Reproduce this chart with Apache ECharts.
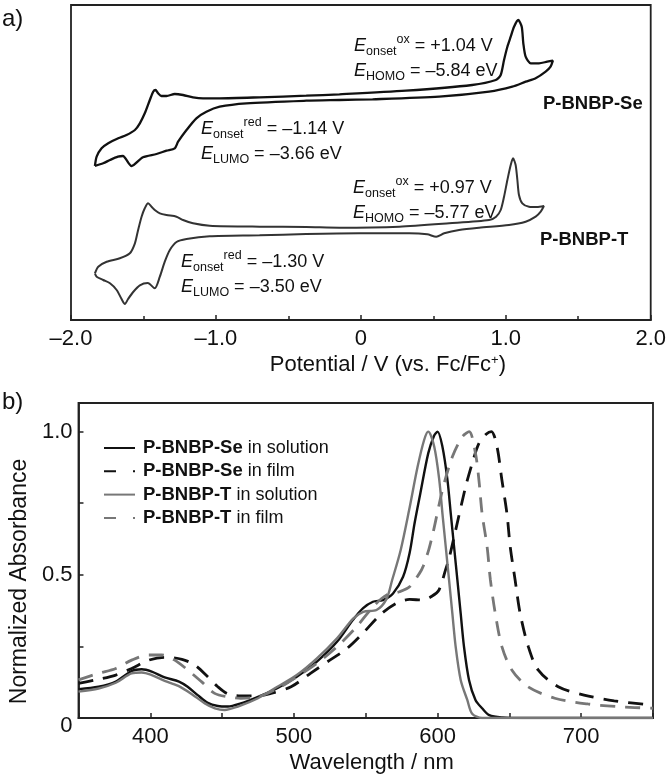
<!DOCTYPE html>
<html>
<head>
<meta charset="utf-8">
<script src="https://cdn.jsdelivr.net/npm/echarts@6/dist/echarts.min.js"></script>
<style>
html, body { margin: 0; padding: 0; background: #fff; }
#chart { width: 669px; height: 778px; }
</style>
</head>
<body>
<div id="chart"></div>
<script>
var FONT = "'Liberation Sans', Arial, Helvetica, sans-serif";

// a) cyclic voltammograms: potential (V vs Fc/Fc+) and current (arb. units)
var seCvV = [-1.835, -1.823, -1.789, -1.743, -1.674, -1.617, -1.559, -1.525, -1.491, -1.456, -1.433, -1.417, -1.399, -1.376, -1.341, -1.284, -1.227, -1.158, -1.089, -0.974, -0.699, -0.377, -0.148, 0.311, 0.768, 0.931, 0.965, 0.988, 1.011, 1.034, 1.057, 1.086, 1.110, 1.121, 1.137, 1.172, 1.229, 1.286, 1.325,
  1.309, 1.275, 1.206, 1.137, 1.045, 0.885, 0.540, 0.081, -0.148, -0.377, -0.790, -0.974, -1.066, -1.135, -1.203, -1.261, -1.284, -1.341, -1.410, -1.504, -1.582, -1.642, -1.676, -1.731, -1.778, -1.835]
var seCvI = [154, 163.3, 171.7, 176.7, 181.7, 185, 190, 196.7, 206.7, 220, 228.3, 230, 226.7, 224, 224, 226, 225, 222.7, 221.7, 221.7, 222.7, 224.3, 225.7, 229.3, 235, 240, 245, 260, 273.3, 283.3, 293.3, 300, 293.3, 276.7, 263.3, 256.7, 256.7, 258.3, 259.3,
  253.3, 248.3, 241.7, 238.3, 233.3, 228.3, 223.3, 220.7, 220, 219.3, 216.7, 213.3, 208.3, 201.7, 190, 178.3, 171.7, 169.3, 166, 162.7, 154, 164, 163.3, 160, 156.7, 154]
var tCvV = [-1.835, -1.812, -1.754, -1.663, -1.594, -1.559, -1.537, -1.513, -1.491, -1.468, -1.444, -1.422, -1.387, -1.341, -1.272, -1.227, -1.158, -1.043, -0.699, -0.377, -0.148, 0.265, 0.609, 0.885, 0.933, 0.965, 0.988, 1.011, 1.034, 1.050, 1.068, 1.080, 1.091, 1.114, 1.160, 1.215, 1.263,
  1.241, 1.206, 1.137, 1.022, 0.816, 0.678, 0.575, 0.520, 0.458, 0.334, -0.010, -0.377, -0.699, -1.043, -1.203, -1.272, -1.318, -1.353, -1.387, -1.422, -1.470, -1.525, -1.571, -1.606, -1.628, -1.651, -1.685, -1.731, -1.778, -1.823, -1.835]
var tCvI = [46.7, 53.3, 58.3, 61.7, 66.7, 76.7, 90, 103.3, 111.7, 116.7, 113.3, 110, 106.7, 105, 103.3, 100, 96.7, 94.3, 93.3, 93, 92.3, 93.3, 96.7, 100, 103.3, 110, 123.3, 140, 155, 161.7, 155, 140, 125, 116.7, 113.3, 113, 114,
  108.3, 103.3, 98.3, 95, 92.3, 90, 86.7, 83.3, 85.7, 86.7, 86.7, 86, 84.7, 83.7, 81, 78, 70, 58.3, 43.3, 31.7, 37, 34.7, 28, 21, 16, 21, 30, 36.7, 40, 43.3, 46.7]

// b) normalized absorbance spectra
var seSolWl = [350, 364, 376, 387, 394, 401, 410, 420, 426, 433, 440, 447, 454, 463, 475, 488, 502, 516, 530, 541, 548, 555, 562, 569, 576, 580.5, 584, 588, 593.5, 597.5, 600, 603.4, 606.9, 609.2, 611.5, 613.8, 616.1, 618.4, 621.9, 626.4, 631, 636, 645, 660, 750]
var seSolAbs = [0.101, 0.109, 0.127, 0.164, 0.170, 0.162, 0.142, 0.127, 0.109, 0.080, 0.053, 0.042, 0.040, 0.051, 0.074, 0.103, 0.144, 0.197, 0.266, 0.342, 0.383, 0.406, 0.412, 0.435, 0.493, 0.575, 0.68, 0.784, 0.924, 0.985, 1.0, 0.947, 0.831, 0.714, 0.598, 0.482, 0.365, 0.249, 0.133, 0.063, 0.034, 0.010, 0.002, 0, 0]
var seFilmWl = [350, 364, 376, 387, 399, 410, 422, 431, 440, 447, 454, 463, 475, 484, 498, 511.5, 525, 537, 548, 560, 571, 580.5, 589.7, 596, 601, 605.7, 608, 612.6, 619.5, 624.1, 628.8, 634, 637.5, 641.4, 644.8, 648.3, 650.6, 654, 657.5, 663.2, 670, 684, 702, 723, 750]
var seFilmAbs = [0.121, 0.135, 0.150, 0.173, 0.202, 0.212, 0.205, 0.185, 0.144, 0.109, 0.084, 0.077, 0.077, 0.086, 0.109, 0.156, 0.202, 0.243, 0.296, 0.360, 0.400, 0.414, 0.412, 0.425, 0.447, 0.52, 0.557, 0.656, 0.807, 0.889, 0.959, 0.992, 1.0, 0.947, 0.831, 0.714, 0.598, 0.482, 0.365, 0.249, 0.168, 0.109, 0.080, 0.060, 0.045]
var tSolWl = [350, 364, 376, 387, 394, 401, 410, 419.5, 428.7, 438, 445, 451.7, 461, 475, 488.5, 502, 516, 530, 541.4, 548.3, 557.5, 564.4, 568.4, 574.3, 580.2, 586.1, 590.6, 593.5, 597.7, 601.2, 603.4, 605.7, 608, 610.3, 612.6, 616.1, 620.7, 624.1, 631, 750]
var tSolAbs = [0.092, 0.103, 0.123, 0.156, 0.159, 0.150, 0.130, 0.112, 0.084, 0.051, 0.034, 0.028, 0.040, 0.069, 0.109, 0.150, 0.208, 0.278, 0.348, 0.371, 0.377, 0.415, 0.482, 0.586, 0.726, 0.877, 0.970, 1.0, 0.947, 0.831, 0.714, 0.598, 0.482, 0.365, 0.249, 0.133, 0.063, 0.015, 0, 0]
var tFilmWl = [350, 364, 376, 387, 399, 408, 417, 426, 435.6, 444.8, 454, 463, 475, 488.5, 502, 516, 530, 543.7, 555, 564.4, 573.6, 580.5, 587.4, 590, 594, 597, 603.4, 610.3, 617.2, 622, 626.4, 628.8, 631, 634.5, 636.8, 640.2, 644.8, 651.7, 663, 681.6, 704.6, 727.6, 750]
var tFilmAbs = [0.133, 0.156, 0.173, 0.202, 0.220, 0.220, 0.202, 0.168, 0.127, 0.086, 0.074, 0.069, 0.074, 0.103, 0.144, 0.191, 0.249, 0.319, 0.388, 0.429, 0.441, 0.458, 0.505, 0.53, 0.59, 0.65, 0.796, 0.912, 0.982, 1.0, 0.924, 0.831, 0.714, 0.598, 0.482, 0.365, 0.249, 0.168, 0.109, 0.069, 0.049, 0.039, 0.034]

function pairs (xs, ys) {
  return xs.map(function (x, i) { return [x, ys[i]] })
}

// rich styles for E_onset^ox etc.
var annotRich = {
  e: { fontFamily: FONT, fontStyle: 'italic', fontSize: 18, lineHeight: 25, fill: '#111' },
  sb: { fontFamily: FONT, fontSize: 12.5, lineHeight: 11, verticalAlign: 'bottom', fill: '#111' },
  sp: { fontFamily: FONT, fontSize: 12.5, lineHeight: 15, verticalAlign: 'top', fill: '#111' },
  n: { fontFamily: FONT, fontSize: 18, lineHeight: 25, fill: '#111' },
  b: { fontFamily: FONT, fontSize: 18.5, fontWeight: 'bold', lineHeight: 25, fill: '#111' },
  p: { fontFamily: FONT, fontSize: 24, lineHeight: 25, fill: '#111' }
}

function annot (x, y, text) {
  return {
    type: 'text',
    x: x,
    y: y,
    silent: true,
    style: { text: text, rich: annotRich, verticalAlign: 'top', fontFamily: FONT, fontSize: 18, fill: '#111' }
  }
}

var axisCol = '#222'
var legendDash = [12, 17]

var chart = echarts.init(document.getElementById('chart'))
var option = {
  animation: false,
  backgroundColor: '#fff',
  textStyle: { fontFamily: FONT },
  grid: [
    { left: 71, top: 5, width: 581, height: 315, show: true, borderColor: axisCol, borderWidth: 1.8 },
    { left: 72, top: 403, width: 581, height: 315, show: true, borderColor: axisCol, borderWidth: 1.8 }
  ],
  xAxis: [
    {
      gridIndex: 0,
      type: 'value',
      min: -2,
      max: 2,
      interval: 1,
      axisLine: { lineStyle: { color: axisCol, width: 1.8 } },
      axisTick: { inside: true, length: 5, lineStyle: { color: axisCol, width: 1.5 } },
      minorTick: { show: true, splitNumber: 2, length: 4, lineStyle: { color: axisCol, width: 1.5 } },
      splitLine: { show: false },
      axisLabel: {
        fontSize: 22,
        color: '#111',
        margin: 8,
        formatter: function (v) {
          if (v === 0) return '0'
          return (v < 0 ? '–' : '') + Math.abs(v).toFixed(1)
        }
      },
      name: 'Potential / V (vs. Fc/Fc{sp|+})',
      nameLocation: 'middle',
      nameGap: 34,
      nameTextStyle: {
        fontSize: 22,
        color: '#111',
        padding: [0, 0, 0, 54],
        rich: { sp: { fontSize: 13, lineHeight: 16, verticalAlign: 'top', color: '#111' } }
      }
    },
    {
      gridIndex: 1,
      type: 'value',
      min: 350,
      max: 750,
      interval: 50,
      axisLine: { lineStyle: { color: axisCol, width: 1.8 } },
      axisTick: { inside: true, length: 5, lineStyle: { color: axisCol, width: 1.5 } },
      splitLine: { show: false },
      axisLabel: {
        fontSize: 22,
        color: '#111',
        margin: 8,
        formatter: function (v) {
          return (v % 100 === 0 && v < 750) ? String(v) : ''
        }
      },
      name: 'Wavelength / nm',
      nameLocation: 'middle',
      nameGap: 34,
      nameTextStyle: { fontSize: 22, color: '#111', padding: [0, 0, 0, 12] }
    }
  ],
  yAxis: [
    { gridIndex: 0, type: 'value', min: 0, max: 315, show: false },
    {
      gridIndex: 1,
      type: 'value',
      min: 0,
      max: 1.1,
      interval: 0.25,
      axisLine: { show: true, lineStyle: { color: axisCol, width: 1.8 } },
      axisTick: { show: true, inside: true, length: 5, lineStyle: { color: axisCol, width: 1.5 } },
      splitLine: { show: false },
      axisLabel: {
        fontSize: 22,
        color: '#111',
        margin: 6,
        formatter: function (v) {
          if (v === 0) return '{z|0}'
          if (v === 0.5) return '0.5'
          if (v === 1) return '1.0'
          return ''
        },
        rich: { z: { fontSize: 22, color: '#111', padding: [16, 0, 0, 0] } }
      },
      name: 'Normalized Absorbance',
      nameLocation: 'middle',
      nameGap: 43,
      nameTextStyle: { fontSize: 23, color: '#111', padding: [0, 42, 0, 0] }
    }
  ],
  legend: {
    orient: 'vertical',
    left: 103,
    top: 438,
    padding: 0,
    itemWidth: 31,
    itemHeight: 14,
    itemGap: 3.3,
    itemStyle: { opacity: 0 },
    data: [
      { name: 'P-BNBP-Se in solution' },
      { name: 'P-BNBP-Se in film', lineStyle: { type: legendDash } },
      { name: 'P-BNBP-T in solution' },
      { name: 'P-BNBP-T in film', lineStyle: { type: legendDash } }
    ],
    formatter: function (name) {
      return name.replace(/^(\S+)/, '{b|$1}')
    },
    textStyle: {
      fontSize: 18,
      color: '#111',
      lineHeight: 20,
      padding: [0, 0, 0, 3],
      rich: { b: { fontSize: 18.5, fontWeight: 'bold', color: '#111', lineHeight: 20 } }
    }
  },
  graphic: [
    annot(2, 7, '{p|a)}'),
    annot(2, 389.5, '{p|b)}'),
    annot(354, 33.3, '{e|E}{sb|onset}{sp|ox}{n| = +1.04 V}\n{e|E}{sb|HOMO}{n| = –5.84 eV}'),
    annot(543, 91.3, '{b|P-BNBP-Se}'),
    annot(201, 116.3, '{e|E}{sb|onset}{sp|red}{n| = –1.14 V}\n{e|E}{sb|LUMO}{n| = –3.66 eV}'),
    annot(353, 175.5, '{e|E}{sb|onset}{sp|ox}{n| = +0.97 V}\n{e|E}{sb|HOMO}{n| = –5.77 eV}'),
    annot(540, 227.3, '{b|P-BNBP-T}'),
    annot(181, 249.3, '{e|E}{sb|onset}{sp|red}{n| = –1.30 V}\n{e|E}{sb|LUMO}{n| = –3.50 eV}')
  ],
  series: [
    {
      name: 'P-BNBP-Se CV',
      type: 'line',
      xAxisIndex: 0,
      yAxisIndex: 0,
      data: pairs(seCvV, seCvI),
      showSymbol: false,
      symbol: 'none',
      smooth: 0.25,
      lineStyle: { color: '#111', width: 2.3 }
    },
    {
      name: 'P-BNBP-T CV',
      type: 'line',
      xAxisIndex: 0,
      yAxisIndex: 0,
      data: pairs(tCvV, tCvI),
      showSymbol: false,
      symbol: 'none',
      smooth: 0.25,
      lineStyle: { color: '#333', width: 2 }
    },
    {
      name: 'P-BNBP-Se in solution',
      type: 'line',
      xAxisIndex: 1,
      yAxisIndex: 1,
      data: pairs(seSolWl, seSolAbs),
      symbol: 'none',
      smooth: 0.3,
      itemStyle: { color: '#111' },
      lineStyle: { color: '#111', width: 2.4 }
    },
    {
      name: 'P-BNBP-Se in film',
      type: 'line',
      xAxisIndex: 1,
      yAxisIndex: 1,
      data: pairs(seFilmWl, seFilmAbs),
      symbol: 'none',
      smooth: 0.3,
      itemStyle: { color: '#111' },
      lineStyle: { color: '#111', width: 2.8, type: [15, 10] }
    },
    {
      name: 'P-BNBP-T in solution',
      type: 'line',
      xAxisIndex: 1,
      yAxisIndex: 1,
      data: pairs(tSolWl, tSolAbs),
      symbol: 'none',
      smooth: 0.3,
      itemStyle: { color: '#777' },
      lineStyle: { color: '#777', width: 2.4 }
    },
    {
      name: 'P-BNBP-T in film',
      type: 'line',
      xAxisIndex: 1,
      yAxisIndex: 1,
      data: pairs(tFilmWl, tFilmAbs),
      symbol: 'none',
      smooth: 0.3,
      itemStyle: { color: '#777' },
      lineStyle: { color: '#777', width: 2.8, type: [15, 10] }
    }
  ]
}
chart.setOption(option)
</script>
</body>
</html>
